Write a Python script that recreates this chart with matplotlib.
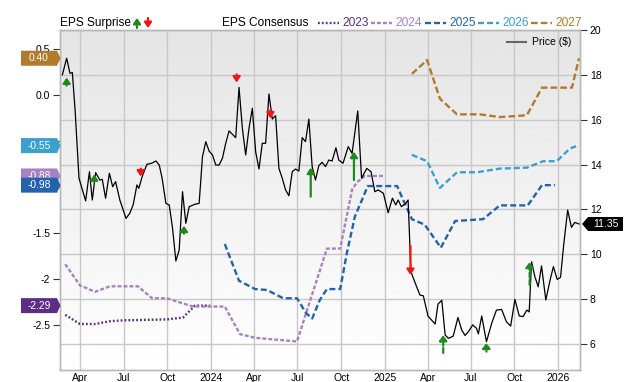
import numpy as np
import matplotlib
matplotlib.use('Agg')
import matplotlib.pyplot as plt
import matplotlib.dates as mdates
from matplotlib.patches import Polygon, FancyArrowPatch
from matplotlib.lines import Line2D
from matplotlib.transforms import IdentityTransform

plt.rcParams['font.family'] = ['Liberation Sans', 'DejaVu Sans']
plt.rcParams['lines.scale_dashes'] = False

#############################################
## share price, weekly-ish closes
price_dates = ['2023-02-22', '2023-03-03', '2023-03-10', '2023-03-15', '2023-03-21', '2023-03-29',
               '2023-04-12', '2023-04-20', '2023-04-26', '2023-05-03', '2023-05-12', '2023-05-17',
               '2023-05-24', '2023-06-01', '2023-06-08', '2023-06-14', '2023-06-23', '2023-07-06',
               '2023-07-14', '2023-07-21', '2023-07-29', '2023-08-02', '2023-08-09', '2023-08-19',
               '2023-08-29', '2023-09-07', '2023-09-14', '2023-09-20', '2023-09-28', '2023-10-05',
               '2023-10-12', '2023-10-19', '2023-10-26', '2023-11-02', '2023-11-09', '2023-11-16',
               '2023-11-28', '2023-12-07', '2023-12-14', '2023-12-21', '2023-12-28', '2024-01-04',
               '2024-01-11', '2024-01-18', '2024-01-25', '2024-02-01', '2024-02-08', '2024-02-15',
               '2024-02-22', '2024-02-29', '2024-03-07', '2024-03-14', '2024-03-21', '2024-03-28',
               '2024-04-04', '2024-04-11', '2024-04-18', '2024-04-25', '2024-05-02', '2024-05-09',
               '2024-05-16', '2024-05-23', '2024-05-30', '2024-06-06', '2024-06-13', '2024-06-20',
               '2024-06-27', '2024-07-04', '2024-07-11', '2024-07-18', '2024-07-25', '2024-08-01',
               '2024-08-08', '2024-08-15', '2024-08-22', '2024-08-29', '2024-09-05', '2024-09-12',
               '2024-09-20', '2024-09-26', '2024-10-05', '2024-10-16', '2024-10-24', '2024-11-05',
               '2024-11-13', '2024-11-24', '2024-12-03', '2024-12-11', '2024-12-18', '2024-12-29',
               '2025-01-08', '2025-01-17', '2025-01-24', '2025-01-29', '2025-02-05', '2025-02-14',
               '2025-02-19', '2025-02-25', '2025-03-09', '2025-03-16', '2025-03-23', '2025-04-02',
               '2025-04-17', '2025-04-23', '2025-05-01', '2025-05-08', '2025-05-15', '2025-05-25',
               '2025-06-04', '2025-06-12', '2025-06-19', '2025-06-26', '2025-07-05', '2025-07-13',
               '2025-07-17', '2025-07-24', '2025-08-03', '2025-08-14', '2025-08-24', '2025-09-04',
               '2025-09-14', '2025-09-23', '2025-10-02', '2025-10-11', '2025-10-19', '2025-10-27',
               '2025-11-01', '2025-11-06', '2025-11-13', '2025-11-20', '2025-11-27', '2025-12-06',
               '2025-12-15', '2025-12-22', '2025-12-30', '2026-01-06', '2026-01-13', '2026-01-21',
               '2026-01-29', '2026-02-05', '2026-02-14']
price_vals = [18.00, 18.74, 18.07, 18.10, 16.36, 13.39,
              12.38, 13.68, 12.42, 13.64, 13.31, 13.34,
              12.50, 13.61, 13.01, 13.24, 12.42, 11.60,
              11.83, 12.20, 13.09, 12.94, 13.46, 14.01,
              14.06, 14.16, 13.98, 13.39, 12.27, 12.20,
              11.16, 9.70, 10.19, 12.79, 11.38, 12.12,
              12.23, 12.27, 14.35, 15.02, 14.60, 14.43,
              13.98, 13.98, 14.28, 14.95, 15.50, 15.35,
              15.20, 17.44, 15.62, 14.43, 15.62, 16.51,
              14.57, 13.80, 14.95, 14.95, 17.15, 16.03,
              16.18, 13.83, 13.39, 12.87, 12.61, 13.68,
              13.80, 13.71, 15.20, 15.02, 16.03, 13.91,
              13.31, 13.95, 14.10, 13.91, 14.20, 14.16,
              14.75, 14.20, 14.06, 14.80, 14.50, 16.39,
              13.39, 13.83, 13.68, 12.79, 12.87, 12.72,
              11.85, 12.50, 12.20, 12.42, 12.12, 12.27,
              12.42, 9.22, 8.55, 8.18, 8.15, 7.24,
              6.89, 7.78, 7.95, 6.40, 6.25, 6.35,
              7.18, 6.62, 6.38, 6.55, 6.85, 6.70,
              6.45, 7.25, 6.10, 6.92, 7.51, 7.54,
              6.99, 6.80, 7.99, 7.25, 7.22, 7.51,
              7.43, 9.67, 9.00, 8.55, 9.48, 7.96,
              8.85, 9.45, 8.88, 8.97, 10.49, 11.97,
              11.20, 11.42, 11.35]

## EPS consensus per fiscal year
eps23_dates = ['2023-02-28', '2023-03-31', '2023-05-02', '2023-06-02', '2023-06-30', '2023-09-30',
               '2023-11-03', '2023-11-28', '2023-12-30']
eps23_vals = [-2.39, -2.49, -2.49, -2.46, -2.45, -2.44, -2.42, -2.29, -2.29]

eps24_dates = ['2023-02-28', '2023-03-31', '2023-05-02', '2023-06-02', '2023-07-31', '2023-08-30',
               '2023-09-30', '2023-11-24', '2024-01-30', '2024-03-02', '2024-04-03', '2024-06-30',
               '2024-09-01', '2024-09-29', '2024-10-24', '2024-11-03', '2024-11-20', '2024-12-30']
eps24_vals = [-1.84, -2.07, -2.14, -2.08, -2.08, -2.21, -2.21, -2.30, -2.30, -2.60, -2.64, -2.68,
              -1.67, -1.67, -1.03, -0.95, -0.88, -0.88]

eps25_dates = ['2024-01-30', '2024-02-29', '2024-04-03', '2024-04-28', '2024-06-01', '2024-06-30',
               '2024-07-19', '2024-08-01', '2024-08-17', '2024-09-01', '2024-09-29', '2024-10-13',
               '2024-10-30', '2024-11-14', '2024-11-26', '2025-01-27', '2025-02-06', '2025-02-27',
               '2025-03-26', '2025-04-29', '2025-05-29', '2025-07-27', '2025-08-31', '2025-10-29',
               '2025-11-28', '2025-12-25']
eps25_vals = [-1.62, -2.02, -2.11, -2.12, -2.21, -2.21, -2.37, -2.43, -2.23, -2.11, -2.11, -1.72,
              -1.32, -1.14, -0.99, -0.99, -1.11, -1.35, -1.41, -1.66, -1.37, -1.35, -1.20, -1.20,
              -0.98, -0.98]

eps26_dates = ['2025-02-27', '2025-03-31', '2025-04-27', '2025-06-02', '2025-07-14', '2025-08-31',
               '2025-10-27', '2025-11-30', '2025-12-29', '2026-01-26', '2026-02-12']
eps26_vals = [-0.65, -0.72, -1.01, -0.84, -0.84, -0.80, -0.79, -0.72, -0.72, -0.58, -0.55]

eps27_dates = ['2025-02-27', '2025-03-31', '2025-04-27', '2025-06-02', '2025-07-20', '2025-08-31',
               '2025-10-27', '2025-11-28', '2026-01-30', '2026-02-14']
eps27_vals = [0.23, 0.38, -0.04, -0.21, -0.21, -0.24, -0.22, 0.08, 0.08, 0.40]

## EPS surprise arrows (tail -> tip, in price units)
surp_dates = ['2023-03-03', '2023-04-30', '2023-08-06', '2023-11-05', '2024-02-24', '2024-05-05',
              '2024-07-29', '2024-10-28', '2025-02-24', '2025-05-04', '2025-08-03', '2025-11-02']
surp_tail = [17.52, 13.22, 13.82, 10.92, 18.02, 16.42, 12.57, 13.31, 10.37, 5.60, 5.66, 8.63]
surp_tip = [17.88, 13.56, 13.47, 11.27, 17.66, 16.06, 13.86, 14.57, 9.08, 6.40, 6.06, 9.67]
surp_dashed = [False, False, False, False, False, False, False, False, False, True, True, True]

xtick_dates = ['2023-04-01', '2023-07-01', '2023-10-01', '2024-01-01', '2024-04-01', '2024-07-01',
               '2024-10-01', '2025-01-01', '2025-04-01', '2025-07-01', '2025-10-01', '2026-01-01']
xtick_labels = ['Apr', 'Jul', 'Oct', '2024', 'Apr', 'Jul', 'Oct', '2025', 'Apr', 'Jul', 'Oct', '2026']
eps_ticks = [0.5, 0.0, -0.5, -1.0, -1.5, -2.0, -2.5]
eps_tick_labels = ['0.5', '0.0', '', '', '-1.5', '-2', '-2.5']   # -0.5 / -1 sit under the badges
price_ticks = [6, 8, 10, 12, 14, 16, 18, 20]

series = [('2023', eps23_dates, eps23_vals, '#5c2d85', (1.3, 1.5)),
          ('2024', eps24_dates, eps24_vals, '#a782c2', (2.8, 1.5)),
          ('2025', eps25_dates, eps25_vals, '#2363ad', (4.3, 2.2)),
          ('2026', eps26_dates, eps26_vals, '#3aa0cf', (4.3, 2.2)),
          ('2027', eps27_dates, eps27_vals, '#b07b2c', (4.8, 2.2))]

W, H = 640, 382
GREEN = '#1e8a1e'
RED = '#f41414'
ARROW = '-|>,head_width=0.22,head_length=0.32'
x_lo = np.datetime64('2023-02-17')
x_hi = np.datetime64('2026-02-16')

fig = plt.figure(figsize=(W / 100, H / 100), dpi=100)
pos = [60 / W, 12 / H, 520 / W, 340 / H]

# background gradient and grid
bg = fig.add_axes(pos)
grad = np.linspace(0.895, 1.0, 256).reshape(-1, 1)
bg.imshow(grad, cmap='gray', vmin=0, vmax=1, aspect='auto', extent=(0, 1, 0, 1),
          transform=bg.transAxes, zorder=0)
bg.set_xlim(mdates.date2num(x_lo), mdates.date2num(x_hi))
bg.set_ylim(4.84, 20.0)
bg.set_xticks(mdates.date2num(np.array(xtick_dates, dtype='datetime64[D]')))
bg.set_yticks(price_ticks)
bg.grid(True, color='#c8c8c8', lw=1.0)
bg.tick_params(length=0, labelbottom=False, labelleft=False)
for s in bg.spines.values():
    s.set_visible(False)

# EPS axis (left)
ax = fig.add_axes(pos)
ax.patch.set_visible(False)
for name, d, v, c, dash in series:
    ax.plot(np.array(d, dtype='datetime64[D]'), v, color=c, lw=1.7, dashes=dash)
ax.set_xlim(x_lo, x_hi)
ax.set_ylim(-2.99, 0.707)
ax.set_xticks(np.array(xtick_dates, dtype='datetime64[D]'))
ax.set_xticklabels(xtick_labels)
ax.set_yticks(eps_ticks)
ax.set_yticklabels(eps_tick_labels)
ax.tick_params(axis='y', length=5, width=0.8, color='#333333', labelsize=7.5, pad=2)
ax.tick_params(axis='x', length=0, labelsize=7.5, pad=2)

# price axis (right)
ax2 = ax.twinx()
ax2.plot(np.array(price_dates, dtype='datetime64[D]'), price_vals, color='black', lw=0.9, zorder=3)
for d, t0, t1, dsh in zip(surp_dates, surp_tail, surp_tip, surp_dashed):
    c = GREEN if t1 > t0 else RED
    x = mdates.date2num(np.datetime64(d))
    ax2.annotate('', xy=(x, t1), xytext=(x, t0),
                 arrowprops=dict(arrowstyle=ARROW, color=c, lw=1.6, shrinkA=0, shrinkB=0,
                                 mutation_scale=10, linestyle='--' if dsh else '-'),
                 zorder=5)
ax2.set_ylim(4.84, 20.0)
ax2.set_yticks(price_ticks)
ax2.set_yticklabels([str(p) for p in price_ticks])
ax2.tick_params(axis='y', length=5, width=0.8, color='#333333', labelsize=7.5, pad=2)

for a in (ax, ax2):
    for s in a.spines.values():
        s.set_color('#b8b8b8')
        s.set_linewidth(1.0)

# value badges on the left, one per fiscal year
zo = 10
for name, d, v, c, dash in series:
    last = v[-1]
    yd = ax.transData.transform((0, last))[1]
    h = 7.5
    poly = Polygon([[21, yd - h], [57, yd - h], [60.5, yd], [57, yd + h], [21, yd + h]],
                   closed=True, transform=IdentityTransform(), facecolor=c, edgecolor='none',
                   zorder=zo)
    fig.add_artist(poly)
    fig.text(39, yd, '%.2f' % last, transform=IdentityTransform(), color='white', fontsize=7.4,
             ha='center', va='center', zorder=zo + 1)
    zo += 2

# price badge on the right
yd = ax2.transData.transform((0, price_vals[-1]))[1]
poly = Polygon([[582, yd], [588, yd - 7], [623, yd - 7], [623, yd + 7], [588, yd + 7]],
               closed=True, transform=IdentityTransform(), facecolor='black', edgecolor='none',
               zorder=30)
fig.add_artist(poly)
fig.text(605.5, yd, '%.2f' % price_vals[-1], transform=IdentityTransform(), color='white',
         fontsize=7.5, ha='center', va='center', zorder=31)

# top legend
ly = H - 23
fig.text(60, ly, 'EPS Surprise', transform=IdentityTransform(), fontsize=8.6, va='center')
fig.add_artist(FancyArrowPatch((137, ly - 5), (137, ly + 5), arrowstyle=ARROW, mutation_scale=10,
                               color=GREEN, lw=1.6, shrinkA=0, shrinkB=0,
                               transform=IdentityTransform()))
fig.add_artist(FancyArrowPatch((148, ly + 5), (148, ly - 5), arrowstyle=ARROW, mutation_scale=10,
                               color=RED, lw=1.6, shrinkA=0, shrinkB=0,
                               transform=IdentityTransform()))
fig.text(222, ly, 'EPS Consensus', transform=IdentityTransform(), fontsize=8.6, va='center')
sample_x = [318, 371, 425, 478, 531]
for (name, d, v, c, dash), sx in zip(series, sample_x):
    fig.add_artist(Line2D([sx, sx + 21], [ly, ly], color=c, lw=1.7, dashes=dash,
                          transform=IdentityTransform()))
    fig.text(sx + 24, ly, name, transform=IdentityTransform(), fontsize=8.6, va='center', color=c)

# price legend inside plot
py = H - 42
fig.add_artist(Line2D([507, 526], [py, py], color='#666666', lw=1.5, transform=IdentityTransform()))
fig.text(532, py, 'Price ($)', transform=IdentityTransform(), fontsize=7.5, va='center')

fig.savefig('out.png', dpi=100)
